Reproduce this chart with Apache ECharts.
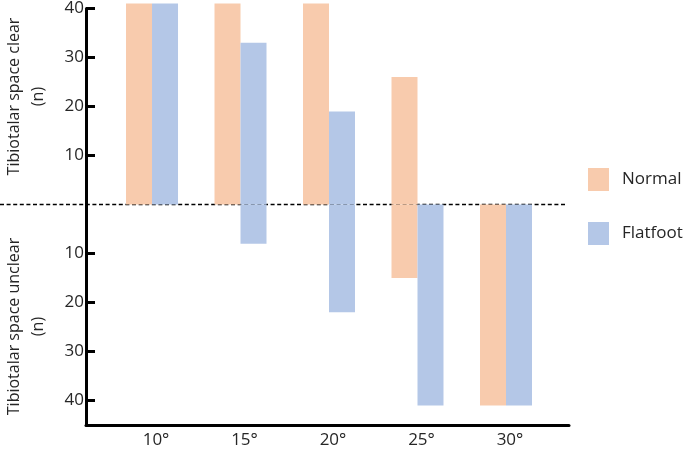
<!DOCTYPE html>
<html>
<head>
<meta charset="utf-8">
<script src="https://cdn.jsdelivr.net/npm/echarts@6/dist/echarts.min.js"></script>
<style>html,body{margin:0;padding:0;background:#fff}#c{width:685px;height:449px}</style>
</head>
<body>
<div id="c"></div>
<script>
const categories = ['10°', '15°', '20°', '25°', '30°'];
const normalClear = [41, 41, 41, 26, 0];
const normalUnclear = [0, 0, 0, 15, 41];
const flatfootClear = [41, 33, 19, 0, 0];
const flatfootUnclear = [0, 8, 22, 41, 41];
const yTickValues = [-40, -30, -20, -10, 10, 20, 30, 40];

const FONT = 'Open Sans';
const TXT = '#262626';
const cNormal = '#F8CBAD';
const cFlat = '#B4C7E7';

const chart = echarts.init(document.getElementById('c'), null, {renderer: 'canvas'});

function pts(arr, sign) { return arr.map((v, i) => [i, sign * v]); }

const barCommon = { type: 'bar', barWidth: 26, barGap: '0%', clip: false, z: 10 };

chart.setOption({
  animation: false,
  grid: { left: 86, right: 116, top: 6, bottom: 23, containLabel: false },
  xAxis: {
    type: 'value', min: -0.746, max: 4.712,
    axisLine: { show: true, onZero: false, lineStyle: { color: '#000', width: 3 } },
    axisTick: { show: false },
    splitLine: { show: false },
    axisLabel: {
      customValues: [0, 1, 2, 3, 4],
      formatter: v => categories[Math.round(v)],
      fontFamily: FONT, fontSize: 17, color: TXT, margin: 7, padding: [0, 0, 0, 8]
    }
  },
  yAxis: {
    type: 'value', min: -45, max: 40,
    axisLine: { show: true, onZero: false, lineStyle: { color: '#000', width: 3 } },
    axisTick: { show: true, inside: true, length: 9, customValues: yTickValues, lineStyle: { color: '#000', width: 3 } },
    splitLine: { show: false },
    axisLabel: {
      customValues: yTickValues,
      formatter: v => String(Math.abs(v)),
      fontFamily: FONT, fontSize: 17, color: TXT, margin: 2
    }
  },
  legend: {
    data: ['Normal', 'Flatfoot'],
    orient: 'vertical', left: 583, top: 163,
    icon: 'rect', itemWidth: 21, itemHeight: 23, itemGap: 31,
    textStyle: { fontFamily: FONT, fontSize: 17, color: TXT, padding: [0, 0, 0, 8] }
  },
  series: [
    Object.assign({}, barCommon, { name: 'Normal', stack: 'normal', data: pts(normalClear, 1), itemStyle: { color: cNormal } }),
    Object.assign({}, barCommon, { name: 'Normal', stack: 'normal', data: pts(normalUnclear, -1), itemStyle: { color: cNormal } }),
    Object.assign({}, barCommon, { name: 'Flatfoot', stack: 'flat', data: pts(flatfootClear, 1), itemStyle: { color: cFlat } }),
    Object.assign({}, barCommon, { name: 'Flatfoot', stack: 'flat', data: pts(flatfootUnclear, -1), itemStyle: { color: cFlat } })
  ]
});

const zeroY = chart.convertToPixel({ yAxisIndex: 0 }, 0);
const rightX = chart.convertToPixel({ xAxisIndex: 0 }, 4.712);
const topY = chart.convertToPixel({ yAxisIndex: 0 }, 40);
const botY = chart.convertToPixel({ yAxisIndex: 0 }, -40);

chart.setOption({
  graphic: [
    { type: 'line', z: 1, shape: { x1: 0, y1: zeroY, x2: rightX - 2, y2: zeroY },
      style: { stroke: '#000', lineWidth: 1.5, lineDash: [4, 2.6] } },
    { type: 'text', rotation: Math.PI / 2, x: 26, y: (topY + zeroY) / 2 - 10,
      style: { text: 'Tibiotalar space clear\n(n)', fontFamily: FONT, fontSize: 16, lineHeight: 24,
        fill: TXT, align: 'center', verticalAlign: 'middle' } },
    { type: 'text', rotation: Math.PI / 2, x: 26, y: (botY + zeroY) / 2 + 24,
      style: { text: 'Tibiotalar space unclear\n(n)', fontFamily: FONT, fontSize: 16, lineHeight: 24,
        fill: TXT, align: 'center', verticalAlign: 'middle' } }
  ]
});
</script>
</body>
</html>
